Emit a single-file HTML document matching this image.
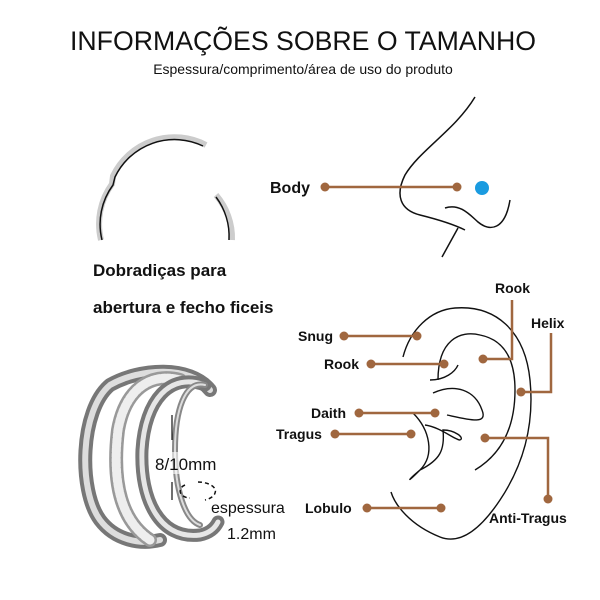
<!DOCTYPE html>
<html><head><meta charset="utf-8"><style>
body{margin:0;background:#fff;}
svg{display:block;font-family:"Liberation Sans",sans-serif;}
</style></head><body>
<svg width="600" height="600" viewBox="0 0 600 600" xmlns="http://www.w3.org/2000/svg">
<text x="303" y="50" font-size="27" text-anchor="middle" fill="#111" textLength="466" lengthAdjust="spacingAndGlyphs">INFORMAÇÕES SOBRE O TAMANHO</text>
<text x="303" y="74" font-size="14" text-anchor="middle" fill="#111">Espessura/comprimento/área de uso do produto</text>

<!-- top ring -->
<path d="M206,145 A68,68 0 0 0 113,176 L112,184 A68,68 0 0 0 101,240" fill="none" stroke="#ccc" stroke-width="6"/>
<path d="M203,146 A66,66 0 0 0 115,177 L113,185 A66,66 0 0 0 102,240" fill="none" stroke="#111" stroke-width="1.5"/>
<path d="M216,195 A66,66 0 0 1 232,240" fill="none" stroke="#ccc" stroke-width="6"/>
<path d="M216,197 A66,66 0 0 1 229,240" fill="none" stroke="#111" stroke-width="1.5"/>
<text x="93" y="276" font-size="17" font-weight="bold" fill="#111">Dobradiças para</text>
<text x="93" y="313" font-size="17" font-weight="bold" fill="#111">abertura e fecho ficeis</text>

<!-- nose -->
<path d="M475,97 C455,130 420,150 405,175 C395,195 400,210 420,215 C440,220 455,225 465,230" fill="none" stroke="#111" stroke-width="1.5"/>
<path d="M445,208 C460,203 470,215 478,222 C490,232 505,230 510,200" fill="none" stroke="#111" stroke-width="1.5"/>
<path d="M458,228 L442,257" fill="none" stroke="#111" stroke-width="1.5"/>
<text x="270" y="193" font-size="16" font-weight="bold" fill="#111">Body</text>
<line x1="325" y1="187" x2="457" y2="187" stroke="#a0673f" stroke-width="2.5"/>
<circle cx="325" cy="187" r="4.5" fill="#a0673f"/><circle cx="457" cy="187" r="4.5" fill="#a0673f"/>
<circle cx="482" cy="188" r="7" fill="#1a9be0"/>

<!-- bottom ring -->
<g fill="none" stroke-linecap="round">
<path d="M210,390 C190,365 140,368 110,385 C80,410 78,490 100,520 C115,540 140,545 160,540" stroke="#777" stroke-width="14"/>
<path d="M210,390 C190,365 140,368 110,385 C80,410 78,490 100,520 C115,540 140,545 160,540" stroke="#ddd" stroke-width="6"/>
<path d="M180,380 C150,372 125,390 118,430 C112,480 120,520 150,540" stroke="#999" stroke-width="14"/>
<path d="M180,380 C150,372 125,390 118,430 C112,480 120,520 150,540" stroke="#eee" stroke-width="9" stroke-dasharray="3 2"/>
<path d="M205,385 C170,372 145,400 142,450 C140,500 160,540 200,535 C210,533 215,528 218,522" stroke="#777" stroke-width="13"/>
<path d="M205,385 C170,372 145,400 142,450 C140,500 160,540 200,535 C210,533 215,528 218,522" stroke="#e6e6e6" stroke-width="5"/>
<path d="M205,385 C185,380 175,410 175,450 C175,490 185,520 200,525" stroke="#888" stroke-width="6"/>
<path d="M205,385 C185,380 175,410 175,450 C175,490 185,520 200,525" stroke="#ddd" stroke-width="2"/>
</g>
<line x1="172" y1="415" x2="172" y2="440" stroke="#111" stroke-width="1.2"/>
<line x1="172" y1="482" x2="172" y2="500" stroke="#111" stroke-width="1.2"/>
<rect x="154" y="452" width="86" height="22" fill="#fff" opacity="0.6"/>
<text x="155" y="470" font-size="17" fill="#111">8/10mm</text>
<path d="M185,485 A10,7 0 0 0 190,498 M198,482 A18,9 0 0 1 215,493 A18,9 0 0 1 205,500" fill="none" stroke="#111" stroke-width="1.5" stroke-dasharray="4 3"/>
<text x="211" y="513" font-size="16" fill="#111">espessura</text>
<text x="227" y="539" font-size="16" fill="#111">1.2mm</text>

<!-- ear -->
<g fill="none" stroke="#111" stroke-width="1.4">
<path d="M403,357 C410,330 430,310 455,308 C495,305 525,330 530,380 C535,430 520,470 500,500 C480,530 460,545 440,537 C410,525 395,505 391,492"/>
<path d="M438,380 C438,340 460,330 480,335 C505,340 515,360 515,390 C515,430 500,455 475,470"/>
<path d="M430,380 C445,380 455,372 458,365"/>
<path d="M433,393 C455,383 475,390 482,410 C488,425 470,420 447,415"/>
<path d="M413,413 C430,430 435,455 420,470 C405,485 408,480 420,470 C440,460 445,450 443,430 C455,430 465,438 460,440"/>
<path d="M425,425 C440,427 455,440 460,440"/>
</g>
<g stroke="#a0673f" stroke-width="2.5" fill="none">
<path d="M344,336 H417"/><path d="M371,364 H444"/><path d="M359,413 H435"/><path d="M335,434 H411"/><path d="M367,508 H441"/>
<path d="M512,300 V359 H483"/><path d="M551,333 V392 H521"/><path d="M485,438 H548 V499"/>
</g>
<g fill="#a0673f">
<circle cx="344" cy="336" r="4.5"/><circle cx="417" cy="336" r="4.5"/>
<circle cx="371" cy="364" r="4.5"/><circle cx="444" cy="364" r="4.5"/>
<circle cx="359" cy="413" r="4.5"/><circle cx="435" cy="413" r="4.5"/>
<circle cx="335" cy="434" r="4.5"/><circle cx="411" cy="434" r="4.5"/>
<circle cx="367" cy="508" r="4.5"/><circle cx="441" cy="508" r="4.5"/>
<circle cx="483" cy="359" r="4.5"/><circle cx="521" cy="392" r="4.5"/>
<circle cx="485" cy="438" r="4.5"/><circle cx="548" cy="499" r="4.5"/>
</g>
<g font-size="14" font-weight="bold" fill="#111">
<text x="298" y="341">Snug</text>
<text x="324" y="369">Rook</text>
<text x="311" y="418">Daith</text>
<text x="276" y="439">Tragus</text>
<text x="305" y="513">Lobulo</text>
<text x="495" y="293">Rook</text>
<text x="531" y="328">Helix</text>
<text x="489" y="523">Anti-Tragus</text>
</g>
</svg>
</body></html>
